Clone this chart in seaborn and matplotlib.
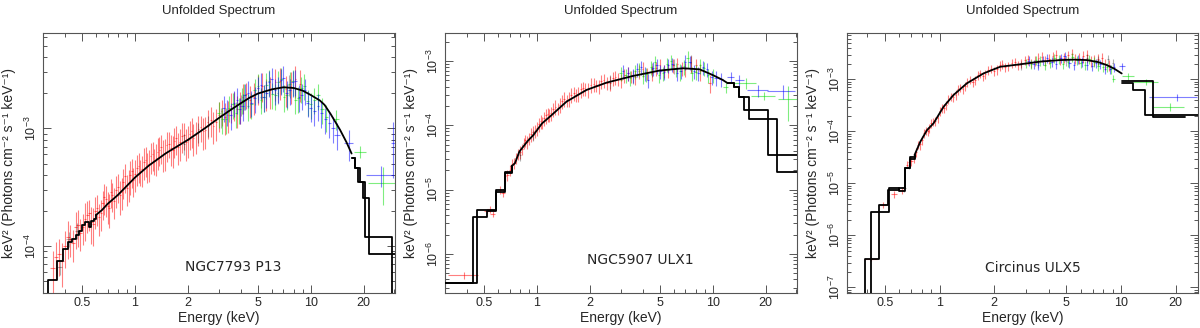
import matplotlib
matplotlib.use("Agg")
import matplotlib.pyplot as plt
import seaborn as sns
from matplotlib.ticker import FixedLocator, FixedFormatter, LogLocator, NullFormatter

# ---------------- panel 1: NGC7793 P13 ----------------
p1_lo_e = [0.30, 0.321, 0.361, 0.391, 0.417, 0.44, 0.46, 0.48, 0.50, 0.52, 0.545, 0.565, 0.585, 0.60]
p1_lo_y = [1e-6, 5.1e-5, 7.4e-5, 9.4e-5, 1.07e-4, 1.15e-4, 1.25e-4, 1.35e-4, 1.5e-4, 1.61e-4, 1.46e-4, 1.62e-4, 1.7e-4, 1.83e-4]
p1_mid_e = [0.60, 0.65, 0.70, 0.75, 0.80, 0.90, 1.0, 1.2, 1.5, 2.0, 2.5, 3.0, 3.5, 4.0, 4.5, 5.0, 6.0, 7.0,
            8.0, 9.0, 10.0, 11.3, 12.0, 13.0, 14.7, 16.0, 17.1]
p1_mid_y = [1.83e-4, 2.02e-4, 2.28e-4, 2.49e-4, 2.71e-4, 3.24e-4, 3.81e-4, 4.82e-4, 6.13e-4, 7.96e-4, 1.0e-3,
            1.22e-3, 1.43e-3, 1.63e-3, 1.82e-3, 1.97e-3, 2.14e-3, 2.23e-3, 2.2e-3, 2.09e-3, 1.92e-3, 1.72e-3,
            1.58e-3, 1.32e-3, 9.7e-4, 7.6e-4, 6.1e-4]
p1_hi_a_e = [17.1, 17.9, 18.7, 20.4, 28.9, 31.0]
p1_hi_a_y = [5.6e-4, 4.6e-4, 3.5e-4, 1.2e-4, 1e-6, 1e-6]
p1_hi_b_e = [17.1, 17.9, 19.1, 19.9, 21.6, 31.0]
p1_hi_b_y = [5.6e-4, 4.6e-4, 3.5e-4, 2.55e-4, 8.55e-5, 8.55e-5]

p1_red_e = [0.34, 0.37, 0.40, 0.43, 0.46, 0.49, 0.52, 0.55, 0.58, 0.61, 0.64, 0.67, 0.70, 0.73, 0.76, 0.80,
            0.84, 0.88, 0.92, 0.96, 1.00, 1.05, 1.10, 1.15, 1.20, 1.26, 1.32, 1.38, 1.45, 1.52, 1.60, 1.68,
            1.76, 1.85, 1.95, 2.05, 2.15, 2.30, 2.45, 2.60, 2.80, 3.00, 3.25, 3.50, 3.80, 4.10, 4.50, 5.00,
            5.60, 6.30, 7.20, 8.20,
            0.355, 0.385, 0.415, 0.445, 0.475, 0.505, 0.535, 0.565, 0.595, 0.625, 0.655, 0.685, 0.715, 0.745,
            0.78, 0.82, 0.86, 0.90, 0.94, 0.98, 1.025, 1.075, 1.125, 1.175, 1.23, 1.29, 1.35, 1.415, 1.485,
            1.56, 1.64, 1.72, 1.80, 1.90, 2.0, 2.1, 2.22, 2.37, 2.52, 2.7, 2.9, 3.12, 3.37, 3.65, 3.95, 4.3,
            4.75, 5.3, 5.9, 6.7, 7.7, 8.7]
p1_red_y = [6.5e-5, 8.5e-5, 1.0e-4, 1.15e-4, 1.45e-4, 1.3e-4, 1.7e-4, 1.9e-4, 1.55e-4, 2.1e-4, 1.9e-4, 2.6e-4,
            2.2e-4, 2.9e-4, 2.4e-4, 3.2e-4, 2.9e-4, 3.9e-4, 3.4e-4, 4.3e-4, 4.1e-4, 4.8e-4, 4.5e-4, 5.4e-4,
            5.0e-4, 6.0e-4, 5.6e-4, 6.6e-4, 6.1e-4, 7.2e-4, 6.8e-4, 7.8e-4, 7.0e-4, 8.6e-4, 7.6e-4, 9.0e-4,
            8.3e-4, 9.9e-4, 9.4e-4, 1.12e-3, 1.05e-3, 1.3e-3, 1.25e-3, 1.55e-3, 1.45e-3, 1.85e-3, 1.75e-3,
            2.2e-3, 2.0e-3, 2.45e-3, 2.15e-3, 2.6e-3,
            8e-5, 7.5e-5, 1.2e-4, 1.05e-4, 1.5e-4, 1.45e-4, 1.85e-4, 1.6e-4, 2.0e-4, 1.75e-4, 2.3e-4, 2.5e-4,
            2.1e-4, 2.7e-4, 3.0e-4, 2.7e-4, 3.5e-4, 3.1e-4, 4.0e-4, 3.6e-4, 4.6e-4, 4.3e-4, 5.2e-4, 4.8e-4,
            5.8e-4, 5.3e-4, 6.3e-4, 6.9e-4, 6.2e-4, 7.4e-4, 6.6e-4, 8.2e-4, 7.6e-4, 8.8e-4, 8.0e-4, 9.5e-4,
            8.7e-4, 1.02e-3, 9.6e-4, 1.18e-3, 1.12e-3, 1.4e-3, 1.3e-3, 1.6e-3, 1.55e-3, 1.95e-3, 1.85e-3,
            2.3e-3, 2.1e-3, 2.5e-3, 2.3e-3, 2.4e-3]
p1_red_err = [0.4, 0.35, 0.35, 0.3, 0.35, 0.3, 0.35, 0.3, 0.35, 0.3, 0.3, 0.3, 0.3, 0.28, 0.3, 0.28, 0.3, 0.28,
              0.3, 0.28, 0.3, 0.28, 0.3, 0.28, 0.3, 0.28, 0.3, 0.28, 0.3, 0.28, 0.3, 0.28, 0.3, 0.28, 0.3, 0.28,
              0.3, 0.28, 0.3, 0.28, 0.3, 0.28, 0.3, 0.28, 0.3, 0.28, 0.3, 0.28, 0.3, 0.3, 0.3, 0.3,
              0.35, 0.4, 0.35, 0.3, 0.35, 0.3, 0.3, 0.35, 0.3, 0.3, 0.28, 0.3, 0.32, 0.28, 0.3, 0.32, 0.28,
              0.3, 0.32, 0.28, 0.3, 0.25, 0.3, 0.28, 0.3, 0.25, 0.3, 0.28, 0.3, 0.25, 0.3, 0.28, 0.3, 0.25,
              0.3, 0.28, 0.3, 0.25, 0.3, 0.28, 0.3, 0.25, 0.3, 0.28, 0.3, 0.25, 0.3, 0.28, 0.3, 0.3, 0.3, 0.3]
p1_red_dx = [0.01, 0.01, 0.01, 0.01, 0.01, 0.01, 0.01, 0.01, 0.01, 0.01, 0.01, 0.01, 0.01, 0.01, 0.01, 0.01,
             0.01, 0.01, 0.01, 0.01, 0.01, 0.01, 0.01, 0.01, 0.01, 0.01, 0.01, 0.01, 0.01, 0.01, 0.02, 0.02,
             0.02, 0.02, 0.02, 0.02, 0.02, 0.02, 0.02, 0.02, 0.03, 0.03, 0.03, 0.03, 0.04, 0.04, 0.05, 0.05,
             0.06, 0.07, 0.08, 0.1,
             0.01, 0.01, 0.01, 0.01, 0.01, 0.01, 0.01, 0.01, 0.01, 0.01, 0.01, 0.01, 0.01, 0.01, 0.01, 0.01,
             0.01, 0.01, 0.01, 0.01, 0.01, 0.01, 0.01, 0.01, 0.01, 0.01, 0.01, 0.02, 0.02, 0.02, 0.02, 0.02,
             0.02, 0.02, 0.02, 0.02, 0.02, 0.02, 0.03, 0.03, 0.03, 0.03, 0.03, 0.04, 0.04, 0.05, 0.05, 0.06,
             0.06, 0.07, 0.08, 0.1]
p1_gray_e = [0.373, 0.42, 0.47, 1.9, 2.3, 2.6, 3.1, 4.0, 5.2, 6.5, 7.5]
p1_gray_y = [6.6e-5, 1.15e-4, 1.35e-4, 7.4e-4, 9.3e-4, 1.05e-3, 1.25e-3, 1.6e-3, 1.85e-3, 2.0e-3, 2.35e-3]
p1_gray_err = [0.15, 0.15, 0.15, 0.2, 0.2, 0.2, 0.2, 0.2, 0.2, 0.2, 0.2]
p1_gray_dx = [0.012, 0.012, 0.012, 0.02, 0.02, 0.03, 0.03, 0.04, 0.05, 0.06, 0.08]
p1_green_e = [3.0, 3.3, 3.6, 3.9, 4.2, 4.6, 5.0, 5.4, 5.8, 6.3, 6.8, 7.3, 7.9, 8.5, 9.2, 10.0, 11.0, 12.3, 14.0,
              19.1, 25.9,
              3.15, 3.45, 3.75, 4.05, 4.4, 4.8, 5.2, 5.6, 6.05, 6.55, 7.05, 7.6, 8.2, 8.85, 9.6, 10.5, 11.6]
p1_green_y = [1.35e-3, 1.2e-3, 1.6e-3, 1.45e-3, 1.9e-3, 1.6e-3, 2.3e-3, 1.85e-3, 2.5e-3, 1.9e-3, 2.6e-3, 1.9e-3,
              2.5e-3, 1.8e-3, 2.3e-3, 1.6e-3, 1.9e-3, 1.25e-3, 1.2e-3, 6.3e-4, 3.45e-4,
              1.2e-3, 1.5e-3, 1.35e-3, 1.75e-3, 1.55e-3, 2.1e-3, 1.75e-3, 2.35e-3, 1.95e-3, 2.45e-3, 1.85e-3,
              2.4e-3, 1.75e-3, 2.2e-3, 1.7e-3, 1.75e-3, 1.45e-3]
p1_green_err = [0.25, 0.25, 0.25, 0.25, 0.25, 0.25, 0.25, 0.25, 0.25, 0.25, 0.25, 0.25, 0.25, 0.25, 0.25, 0.25,
                0.25, 0.25, 0.2, 0.12, 0.35,
                0.25, 0.25, 0.25, 0.25, 0.25, 0.25, 0.25, 0.25, 0.25, 0.25, 0.25, 0.25, 0.25, 0.25, 0.25, 0.25,
                0.25]
p1_green_dx = [0.05, 0.05, 0.06, 0.06, 0.07, 0.08, 0.08, 0.09, 0.1, 0.1, 0.12, 0.12, 0.13, 0.15, 0.15, 0.2,
               0.25, 0.3, 0.5, 1.5, 4.7,
               0.05, 0.05, 0.06, 0.06, 0.07, 0.08, 0.08, 0.09, 0.1, 0.1, 0.12, 0.12, 0.13, 0.15, 0.15, 0.2, 0.25]
p1_blue_e = [3.2, 3.5, 3.8, 4.1, 4.4, 4.8, 5.2, 5.6, 6.0, 6.5, 7.0, 7.6, 8.2, 8.9, 9.6, 10.5, 11.5, 12.8, 14.1,
             16.5, 25.0, 29.5,
             3.35, 3.65, 3.95, 4.25, 4.6, 5.0, 5.4, 5.8, 6.25, 6.75, 7.3, 7.9, 8.55, 9.25, 10.0, 11.0, 12.1, 13.4]
p1_blue_y = [1.5e-3, 1.3e-3, 1.75e-3, 1.55e-3, 2.0e-3, 1.8e-3, 2.35e-3, 2.0e-3, 2.6e-3, 2.2e-3, 2.7e-3, 2.1e-3,
             2.5e-3, 1.9e-3, 1.65e-3, 1.4e-3, 1.35e-3, 1.1e-3, 8.8e-4, 7.5e-4, 4.0e-4, 7.5e-4,
             1.4e-3, 1.65e-3, 1.45e-3, 1.9e-3, 1.65e-3, 2.2e-3, 1.85e-3, 2.45e-3, 2.1e-3, 2.55e-3, 2.0e-3,
             2.45e-3, 1.85e-3, 2.1e-3, 1.5e-3, 1.55e-3, 1.2e-3, 1.0e-3]
p1_blue_err = [0.25, 0.25, 0.25, 0.25, 0.25, 0.25, 0.25, 0.25, 0.25, 0.25, 0.25, 0.25, 0.25, 0.25, 0.25, 0.25,
               0.25, 0.25, 0.25, 0.3, 0.2, 0.5,
               0.25, 0.25, 0.25, 0.25, 0.25, 0.25, 0.25, 0.25, 0.25, 0.25, 0.25, 0.25, 0.25, 0.25, 0.25, 0.25,
               0.25, 0.25]
p1_blue_dx = [0.05, 0.05, 0.06, 0.06, 0.07, 0.08, 0.08, 0.09, 0.1, 0.1, 0.12, 0.12, 0.13, 0.15, 0.15, 0.2,
              0.25, 0.3, 0.5, 1.0, 4.3, 0.8,
              0.05, 0.05, 0.06, 0.06, 0.07, 0.08, 0.08, 0.09, 0.1, 0.1, 0.12, 0.12, 0.13, 0.15, 0.15, 0.2,
              0.25, 0.3]

# ---------------- panel 2: NGC5907 ULX1 ----------------
p2_lo_a_e = [0.30, 0.435, 0.52, 0.585, 0.657, 0.718]
p2_lo_a_y = [3.5e-7, 3.8e-6, 4.7e-6, 9.3e-6, 1.8e-5, 2.3e-5]
p2_lo_b_e = [0.30, 0.458, 0.585, 0.657, 0.718]
p2_lo_b_y = [3.5e-7, 4.9e-6, 9.8e-6, 1.85e-5, 2.3e-5]
p2_mid_e = [0.718, 0.75, 0.795, 0.882, 0.957, 1.07, 1.185, 1.474, 1.915, 2.49, 3.53, 5.0, 6.8, 8.44, 10.0,
            11.4, 12.2]
p2_mid_y = [2.3e-5, 2.57e-5, 3.9e-5, 5.6e-5, 7.1e-5, 1.07e-4, 1.36e-4, 2.33e-4, 3.54e-4, 4.6e-4, 5.85e-4,
            7.1e-4, 7.7e-4, 7.4e-4, 6.05e-4, 5.07e-4, 4.5e-4]
p2_hi_a_e = [12.2, 13.3, 14.2, 15.0, 20.6, 31.0]
p2_hi_a_y = [4.5e-4, 3.9e-4, 2.8e-4, 1.73e-4, 3.45e-5, 3.45e-5]
p2_hi_b_e = [12.2, 13.3, 14.2, 16.1, 23.1, 31.0]
p2_hi_b_y = [4.5e-4, 3.9e-4, 2.8e-4, 1.24e-4, 1.9e-5, 1.9e-5]

p2_red_e = [0.385, 0.52, 0.56, 0.62, 0.66, 0.70, 0.74, 0.78, 0.82, 0.86, 0.90, 0.95, 1.0, 1.05, 1.1, 1.15, 1.2,
            1.27, 1.35, 1.43, 1.52, 1.62, 1.72, 1.83, 1.95, 2.1, 2.25, 2.4, 2.6, 2.8, 3.0, 3.3, 3.6, 4.0, 4.5,
            5.0, 5.6, 6.3, 7.0, 8.0, 9.6,
            0.54, 0.64, 0.68, 0.72, 0.76, 0.80, 0.84, 0.88, 0.925, 0.975, 1.025, 1.075, 1.125, 1.175, 1.235,
            1.31, 1.39, 1.475, 1.57, 1.67, 1.775, 1.89, 2.02, 2.17, 2.32, 2.5, 2.7, 2.9, 3.15, 3.45, 3.8, 4.25,
            4.75, 5.3, 5.95, 6.65, 7.5, 8.5]
p2_red_y = [4.7e-7, 4.6e-6, 4.2e-6, 1.0e-5, 1.6e-5, 2.0e-5, 2.6e-5, 3.6e-5, 4.3e-5, 5.8e-5, 6.3e-5, 7.8e-5,
            9.0e-5, 1.15e-4, 1.3e-4, 1.5e-4, 1.55e-4, 1.95e-4, 2.1e-4, 2.6e-4, 2.6e-4, 3.2e-4, 3.1e-4, 3.8e-4,
            3.6e-4, 4.4e-4, 4.1e-4, 5.0e-4, 4.6e-4, 5.6e-4, 5.0e-4, 6.4e-4, 5.7e-4, 7.6e-4, 6.6e-4, 8.5e-4,
            7.2e-4, 9.0e-4, 7.4e-4, 8.6e-4, 4.6e-4,
            5.0e-6, 9.0e-6, 1.7e-5, 2.5e-5, 3.1e-5, 3.9e-5, 5.3e-5, 5.5e-5, 7.3e-5, 8.2e-5, 1.05e-4, 1.12e-4,
            1.42e-4, 1.45e-4, 1.8e-4, 1.85e-4, 2.4e-4, 2.45e-4, 3.0e-4, 2.95e-4, 3.6e-4, 3.7e-4, 4.3e-4,
            4.2e-4, 4.8e-4, 4.6e-4, 5.4e-4, 5.3e-4, 6.0e-4, 5.8e-4, 6.9e-4, 6.4e-4, 7.8e-4, 7.0e-4, 8.6e-4,
            7.8e-4, 9.2e-4, 7.0e-4]
p2_red_err = [0.12, 0.1, 0.1, 0.15, 0.2, 0.2, 0.2, 0.2, 0.2, 0.22, 0.22, 0.25, 0.25, 0.25, 0.25, 0.25, 0.25,
              0.25, 0.25, 0.25, 0.25, 0.25, 0.25, 0.25, 0.25, 0.25, 0.25, 0.25, 0.25, 0.25, 0.25, 0.25, 0.25,
              0.25, 0.25, 0.25, 0.25, 0.25, 0.25, 0.25, 0.3,
              0.12, 0.15, 0.2, 0.2, 0.2, 0.22, 0.2, 0.22, 0.25, 0.22, 0.25, 0.22, 0.25, 0.22, 0.25, 0.22, 0.25,
              0.22, 0.25, 0.22, 0.25, 0.22, 0.25, 0.22, 0.25, 0.22, 0.25, 0.22, 0.25, 0.22, 0.25, 0.22, 0.25,
              0.22, 0.25, 0.25, 0.3, 0.3]
p2_red_dx = [0.075, 0.02, 0.02, 0.015, 0.01, 0.01, 0.01, 0.01, 0.01, 0.01, 0.01, 0.01, 0.01, 0.01, 0.01, 0.01,
             0.01, 0.01, 0.01, 0.02, 0.02, 0.02, 0.02, 0.02, 0.02, 0.02, 0.02, 0.02, 0.03, 0.03, 0.03, 0.03,
             0.04, 0.04, 0.05, 0.05, 0.06, 0.07, 0.08, 0.1, 0.15,
             0.02, 0.015, 0.01, 0.01, 0.01, 0.01, 0.01, 0.01, 0.01, 0.01, 0.01, 0.01, 0.01, 0.01, 0.01, 0.01,
             0.02, 0.02, 0.02, 0.02, 0.02, 0.02, 0.02, 0.02, 0.02, 0.03, 0.03, 0.03, 0.03, 0.04, 0.04, 0.05,
             0.05, 0.06, 0.07, 0.08, 0.08, 0.1]
p2_gray_e = [0.8, 0.95, 2.6, 3.5, 4.5, 6.0, 7.5]
p2_gray_y = [3.5e-5, 7.0e-5, 4.8e-4, 5.8e-4, 7.5e-4, 8.5e-4, 9.5e-4]
p2_gray_err = [0.2, 0.2, 0.25, 0.25, 0.25, 0.25, 0.3]
p2_gray_dx = [0.01, 0.01, 0.03, 0.04, 0.05, 0.06, 0.08]
p2_green_e = [3.0, 3.4, 3.8, 4.2, 4.7, 5.2, 5.8, 6.5, 7.2, 8.0, 8.9, 10.0, 11.9, 15.5, 19.5, 26.8,
              3.2, 3.6, 4.0, 4.45, 4.95, 5.5, 6.15, 6.85, 7.6, 8.45, 9.4]
p2_green_y = [6.5e-4, 5.5e-4, 7.5e-4, 6.2e-4, 9.5e-4, 6.5e-4, 1.0e-3, 7.0e-4, 1.1e-3, 6.8e-4, 7.8e-4, 6.0e-4,
              3.9e-4, 4.6e-4, 2.9e-4, 2.6e-4,
              6.0e-4, 7.0e-4, 5.8e-4, 8.0e-4, 6.0e-4, 9.0e-4, 7.5e-4, 8.2e-4, 6.5e-4, 8.5e-4, 6.0e-4]
p2_green_err = [0.25, 0.25, 0.25, 0.25, 0.25, 0.25, 0.25, 0.3, 0.3, 0.25, 0.25, 0.25, 0.2, 0.2, 0.15, 0.55,
                0.25, 0.25, 0.25, 0.25, 0.25, 0.25, 0.25, 0.25, 0.25, 0.25, 0.25]
p2_green_dx = [0.05, 0.05, 0.06, 0.07, 0.08, 0.08, 0.1, 0.1, 0.12, 0.13, 0.15, 0.2, 0.4, 2.2, 3.0, 3.4,
               0.05, 0.05, 0.06, 0.07, 0.08, 0.08, 0.1, 0.1, 0.12, 0.13, 0.15]
p2_blue_e = [3.1, 3.5, 3.9, 4.3, 4.8, 5.3, 5.9, 6.6, 7.4, 8.3, 9.3, 10.5, 12.7, 14.2, 18.1, 25.0,
             3.3, 3.7, 4.1, 4.55, 5.05, 5.6, 6.25, 7.0, 7.85, 8.8, 9.9, 11.2]
p2_blue_y = [7.0e-4, 6.0e-4, 8.0e-4, 5.1e-4, 8.5e-4, 6.8e-4, 9.0e-4, 7.0e-4, 9.5e-4, 6.5e-4, 7.5e-4, 5.5e-4,
             5.7e-4, 5.0e-4, 3.5e-4, 3.4e-4,
             6.5e-4, 7.5e-4, 6.5e-4, 7.8e-4, 7.0e-4, 8.6e-4, 6.4e-4, 9.8e-4, 7.0e-4, 8.0e-4, 5.6e-4, 5.2e-4]
p2_blue_err = [0.25, 0.25, 0.25, 0.25, 0.25, 0.25, 0.25, 0.25, 0.25, 0.25, 0.25, 0.25, 0.2, 0.2, 0.2, 0.25,
               0.25, 0.25, 0.25, 0.25, 0.25, 0.25, 0.25, 0.25, 0.25, 0.25, 0.25, 0.25]
p2_blue_dx = [0.05, 0.05, 0.06, 0.07, 0.08, 0.08, 0.1, 0.1, 0.12, 0.13, 0.15, 0.3, 0.6, 0.8, 2.5, 4.5,
              0.05, 0.05, 0.06, 0.07, 0.08, 0.08, 0.1, 0.1, 0.12, 0.13, 0.2, 0.3]

# ---------------- panel 3: Circinus ULX5 ----------------
p3_lo_a_e = [0.30, 0.387, 0.4615, 0.52, 0.595, 0.647, 0.69, 0.728]
p3_lo_a_y = [1e-9, 3.45e-7, 3.83e-6, 7.4e-6, 8.0e-6, 1.94e-5, 3.0e-5, 3.5e-5]
p3_lo_b_e = [0.30, 0.421, 0.529, 0.595, 0.647, 0.69, 0.728]
p3_lo_b_y = [1e-9, 2.84e-6, 8.0e-6, 7.0e-6, 1.94e-5, 3.2e-5, 3.5e-5]
p3_mid_e = [0.728, 0.783, 0.853, 0.927, 1.052, 1.194, 1.415, 1.746, 2.16, 2.78, 3.6, 4.6, 5.5, 6.5, 7.5,
            8.34, 9.2, 10.1]
p3_mid_y = [3.5e-5, 6.3e-5, 1.06e-4, 1.43e-4, 2.97e-4, 5.0e-4, 8.4e-4, 1.3e-3, 1.75e-3, 1.95e-3, 2.2e-3,
            2.35e-3, 2.4e-3, 2.35e-3, 2.15e-3, 1.89e-3, 1.6e-3, 1.3e-3]
p3_hi_a_e = [10.1, 11.7, 13.6, 27.0]
p3_hi_a_y = [8.6e-4, 6.2e-4, 2.06e-4, 2.06e-4]
p3_hi_b_e = [10.1, 15.1, 22.5]
p3_hi_b_y = [9.5e-4, 1.86e-4, 1.86e-4]

p3_red_e = [0.42, 0.49, 0.56, 0.62, 0.66, 0.70, 0.74, 0.78, 0.82, 0.86, 0.90, 0.95, 1.0, 1.06, 1.12, 1.19,
            1.26, 1.34, 1.42, 1.52, 1.62, 1.73, 1.85, 2.0, 2.15, 2.3, 2.5, 2.7, 2.95, 3.2, 3.5, 3.8, 4.2, 4.6,
            5.1, 5.6, 6.2, 6.8, 7.5, 8.2,
            0.68, 0.72, 0.76, 0.80, 0.84, 0.88, 0.925, 0.975, 1.03, 1.09, 1.155, 1.225, 1.30, 1.38, 1.47, 1.57,
            1.675, 1.79, 1.925, 2.07, 2.22, 2.4, 2.6, 2.82, 3.07, 3.35, 3.65, 4.0, 4.4, 4.85, 5.35, 5.9, 6.5,
            7.15, 7.85, 8.6]
p3_red_y = [3.5e-7, 3.9e-6, 6.2e-6, 7.5e-6, 2.3e-5, 2.7e-5, 4.0e-5, 5.6e-5, 9.2e-5, 1.0e-4, 1.45e-4, 1.6e-4,
            2.45e-4, 2.8e-4, 4.2e-4, 4.6e-4, 6.4e-4, 6.6e-4, 9.0e-4, 8.8e-4, 1.2e-3, 1.15e-3, 1.5e-3, 1.45e-3,
            1.85e-3, 1.7e-3, 2.1e-3, 1.9e-3, 2.35e-3, 2.1e-3, 2.6e-3, 2.3e-3, 2.8e-3, 2.4e-3, 2.9e-3, 2.5e-3,
            2.8e-3, 2.3e-3, 2.5e-3, 2.0e-3,
            2.6e-5, 3.1e-5, 5.5e-5, 6.8e-5, 1.05e-4, 1.15e-4, 1.55e-4, 1.8e-4, 2.8e-4, 3.2e-4, 4.7e-4, 5.1e-4,
            7.0e-4, 7.4e-4, 9.8e-4, 9.8e-4, 1.3e-3, 1.28e-3, 1.6e-3, 1.55e-3, 1.95e-3, 1.8e-3, 2.15e-3,
            2.05e-3, 2.45e-3, 2.3e-3, 2.75e-3, 2.5e-3, 3.0e-3, 2.6e-3, 3.1e-3, 2.6e-3, 2.9e-3, 2.4e-3, 2.6e-3,
            1.9e-3]
p3_red_err = [0.1, 0.15, 0.15, 0.15, 0.15, 0.2, 0.2, 0.2, 0.2, 0.2, 0.2, 0.2, 0.2, 0.2, 0.2, 0.2, 0.2, 0.2,
              0.2, 0.2, 0.2, 0.2, 0.2, 0.2, 0.2, 0.2, 0.2, 0.2, 0.2, 0.2, 0.22, 0.22, 0.22, 0.22, 0.22, 0.22,
              0.25, 0.25, 0.25, 0.25,
              0.15, 0.2, 0.18, 0.2, 0.18, 0.2, 0.18, 0.2, 0.18, 0.2, 0.18, 0.2, 0.18, 0.2, 0.18, 0.2, 0.18, 0.2,
              0.18, 0.2, 0.2, 0.2, 0.2, 0.2, 0.22, 0.22, 0.22, 0.22, 0.22, 0.22, 0.25, 0.25, 0.25, 0.25, 0.25,
              0.25]
p3_red_dx = [0.035, 0.02, 0.02, 0.02, 0.01, 0.01, 0.01, 0.01, 0.01, 0.01, 0.01, 0.01, 0.01, 0.01, 0.01, 0.01,
             0.01, 0.01, 0.02, 0.02, 0.02, 0.02, 0.02, 0.02, 0.02, 0.02, 0.02, 0.03, 0.03, 0.03, 0.03, 0.04,
             0.04, 0.05, 0.05, 0.06, 0.07, 0.08, 0.08, 0.1,
             0.01, 0.01, 0.01, 0.01, 0.01, 0.01, 0.01, 0.01, 0.01, 0.01, 0.01, 0.01, 0.01, 0.02, 0.02, 0.02,
             0.02, 0.02, 0.02, 0.02, 0.02, 0.02, 0.03, 0.03, 0.03, 0.03, 0.04, 0.04, 0.05, 0.05, 0.06, 0.06,
             0.07, 0.08, 0.08, 0.1]
p3_gray_e = [0.64, 0.68, 2.8, 3.5, 5.0, 6.5, 7.5, 8.5, 9.0]
p3_gray_y = [8e-6, 2.2e-5, 1.9e-3, 2.1e-3, 2.3e-3, 2.6e-3, 2.4e-3, 2.5e-3, 2.1e-3]
p3_gray_err = [0.15, 0.15, 0.2, 0.2, 0.2, 0.2, 0.2, 0.2, 0.2]
p3_gray_dx = [0.01, 0.01, 0.03, 0.04, 0.05, 0.06, 0.08, 0.1, 0.1]
p3_green_e = [3.0, 3.4, 3.8, 4.3, 4.8, 5.4, 6.0, 6.7, 7.5, 8.4, 9.1, 11.0, 13.8, 18.6,
              3.2, 3.6, 4.05, 4.55, 5.1, 5.7, 6.35, 7.1, 7.95, 8.8]
p3_green_y = [2.1e-3, 2.4e-3, 1.9e-3, 2.6e-3, 2.0e-3, 2.7e-3, 2.1e-3, 2.5e-3, 1.8e-3, 1.7e-3, 1.04e-3, 1.16e-3,
              9.0e-4, 3.0e-4,
              2.0e-3, 2.3e-3, 2.1e-3, 2.5e-3, 2.2e-3, 2.4e-3, 1.9e-3, 2.2e-3, 1.7e-3, 1.6e-3]
p3_green_err = [0.2, 0.2, 0.2, 0.2, 0.2, 0.2, 0.2, 0.2, 0.2, 0.2, 0.15, 0.15, 0.15, 0.18,
                0.2, 0.2, 0.2, 0.2, 0.2, 0.2, 0.2, 0.2, 0.2, 0.2]
p3_green_dx = [0.05, 0.05, 0.06, 0.07, 0.08, 0.08, 0.1, 0.1, 0.12, 0.13, 0.2, 0.8, 2.2, 3.7,
               0.05, 0.05, 0.06, 0.07, 0.08, 0.08, 0.1, 0.1, 0.12, 0.13]
p3_blue_e = [3.1, 3.5, 3.9, 4.4, 4.9, 5.5, 6.1, 6.9, 7.7, 8.7, 10.1, 20.3,
             3.3, 3.7, 4.15, 4.65, 5.2, 5.8, 6.5, 7.3, 8.2, 9.2]
p3_blue_y = [2.3e-3, 1.9e-3, 2.6e-3, 2.0e-3, 2.8e-3, 1.9e-3, 2.2e-3, 1.8e-3, 2.0e-3, 1.6e-3, 1.8e-3, 4.5e-4,
             2.0e-3, 2.4e-3, 2.2e-3, 2.6e-3, 2.1e-3, 2.5e-3, 1.9e-3, 2.1e-3, 1.6e-3, 1.7e-3]
p3_blue_err = [0.2, 0.2, 0.2, 0.2, 0.2, 0.2, 0.2, 0.2, 0.2, 0.2, 0.15, 0.15,
               0.2, 0.2, 0.2, 0.2, 0.2, 0.2, 0.2, 0.2, 0.2, 0.2]
p3_blue_dx = [0.05, 0.05, 0.06, 0.07, 0.08, 0.08, 0.1, 0.1, 0.12, 0.13, 0.4, 6.0,
              0.05, 0.05, 0.06, 0.07, 0.08, 0.08, 0.1, 0.1, 0.12, 0.13]

source_names = ["NGC7793 P13", "NGC5907 ULX1", "Circinus ULX5"]
x_ticks = [0.5, 1, 2, 5, 10, 20]
x_tick_labels = ["0.5", "1", "2", "5", "10", "20"]
x_minor = [0.3, 0.4, 0.6, 0.7, 0.8, 0.9, 3, 4, 6, 7, 8, 9, 30]

sns.set_style("ticks")
plt.rcParams['font.family'] = ['Liberation Sans', 'DejaVu Sans']
plt.rcParams['mathtext.fontset'] = 'custom'
plt.rcParams['mathtext.rm'] = 'Liberation Sans'
plt.rcParams['mathtext.it'] = 'Liberation Sans:italic'

FRAME = '#555555'


def draw_model(ax, e, y, steps=True):
    kw = dict(drawstyle='steps-post') if steps else {}
    sns.lineplot(x=e, y=y, ax=ax, estimator=None, sort=False, color='black', lw=1.3, zorder=5, **kw)


def draw_data(ax, e, y, err, dx, color, alpha):
    dy = [v * r for v, r in zip(y, err)]
    ax.errorbar(e, y, yerr=dy, xerr=dx, fmt='none', ecolor=color, elinewidth=0.8, alpha=alpha,
                capsize=0, zorder=2)


def style_axes(ax, xlim, ylim, name, name_pos):
    ax.set_xlim(*xlim)
    ax.set_ylim(*ylim)
    ax.xaxis.set_major_locator(FixedLocator(x_ticks))
    ax.xaxis.set_major_formatter(FixedFormatter(x_tick_labels))
    ax.xaxis.set_minor_locator(FixedLocator(x_minor))
    ax.xaxis.set_minor_formatter(NullFormatter())
    ax.yaxis.set_major_locator(LogLocator(base=10))
    ax.yaxis.set_minor_locator(LogLocator(base=10, subs=(2, 3, 4, 5, 6, 7, 8, 9)))
    ax.yaxis.set_minor_formatter(NullFormatter())
    ax.tick_params(which='both', direction='in', top=True, right=True, color=FRAME, width=0.7)
    ax.tick_params(which='major', length=6, labelsize=9, pad=3)
    ax.tick_params(which='minor', length=3)
    for lab in ax.get_yticklabels():
        lab.set_rotation(90)
        lab.set_va('center')
    for sp in ax.spines.values():
        sp.set_color(FRAME)
        sp.set_linewidth(0.8)
    ax.set_title("Unfolded Spectrum", fontsize=9.5, pad=14)
    ax.set_xlabel("Energy (keV)", fontsize=10, labelpad=1)
    ax.set_ylabel("keV\u00b2 (Photons cm\u207b\u00b2 s\u207b\u00b9 keV\u207b\u00b9)", fontsize=10)
    ax.yaxis.set_label_coords(-0.078, 0.5)
    ax.text(name_pos[0], name_pos[1], name, transform=ax.transAxes, ha='center', va='center',
            fontsize=10, family='DejaVu Sans')


fig = plt.figure(figsize=(12, 3.28), dpi=100)
ax1 = fig.add_axes([43 / 1200, 1 - 293.3 / 328, 352 / 1200, 260.3 / 328])
ax2 = fig.add_axes([445 / 1200, 1 - 293.3 / 328, 352 / 1200, 260.3 / 328])
ax3 = fig.add_axes([847 / 1200, 1 - 293.3 / 328, 351 / 1200, 260.3 / 328])
for ax in (ax1, ax2, ax3):
    ax.set_xscale('log')
    ax.set_yscale('log')

# panel 1
draw_data(ax1, p1_red_e, p1_red_y, p1_red_err, p1_red_dx, 'red', 0.5)
draw_data(ax1, p1_gray_e, p1_gray_y, p1_gray_err, p1_gray_dx, 'black', 0.3)
draw_data(ax1, p1_green_e, p1_green_y, p1_green_err, p1_green_dx, '#00dd00', 0.5)
draw_data(ax1, p1_blue_e, p1_blue_y, p1_blue_err, p1_blue_dx, 'blue', 0.5)
draw_model(ax1, p1_lo_e, p1_lo_y)
draw_model(ax1, p1_mid_e, p1_mid_y, steps=False)
draw_model(ax1, p1_hi_a_e, p1_hi_a_y)
draw_model(ax1, p1_hi_b_e, p1_hi_b_y)
style_axes(ax1, (0.30, 30.2), (3.96e-5, 6.45e-3), source_names[0], (0.539, 0.10))

# panel 2
draw_data(ax2, p2_red_e, p2_red_y, p2_red_err, p2_red_dx, 'red', 0.5)
draw_data(ax2, p2_gray_e, p2_gray_y, p2_gray_err, p2_gray_dx, 'black', 0.3)
draw_data(ax2, p2_green_e, p2_green_y, p2_green_err, p2_green_dx, '#00dd00', 0.5)
draw_data(ax2, p2_blue_e, p2_blue_y, p2_blue_err, p2_blue_dx, 'blue', 0.5)
draw_model(ax2, p2_lo_a_e, p2_lo_a_y)
draw_model(ax2, p2_lo_b_e, p2_lo_b_y)
draw_model(ax2, p2_mid_e, p2_mid_y, steps=False)
draw_model(ax2, p2_hi_a_e, p2_hi_a_y)
draw_model(ax2, p2_hi_b_e, p2_hi_b_y)
style_axes(ax2, (0.30, 30.2), (2.44e-7, 2.72e-3), source_names[1], (0.554, 0.128))

# panel 3
draw_data(ax3, p3_red_e, p3_red_y, p3_red_err, p3_red_dx, 'red', 0.5)
draw_data(ax3, p3_gray_e, p3_gray_y, p3_gray_err, p3_gray_dx, 'black', 0.3)
draw_data(ax3, p3_green_e, p3_green_y, p3_green_err, p3_green_dx, '#00dd00', 0.5)
draw_data(ax3, p3_blue_e, p3_blue_y, p3_blue_err, p3_blue_dx, 'blue', 0.5)
draw_model(ax3, p3_lo_a_e, p3_lo_a_y)
draw_model(ax3, p3_lo_b_e, p3_lo_b_y)
draw_model(ax3, p3_mid_e, p3_mid_y, steps=False)
draw_model(ax3, p3_hi_a_e, p3_hi_a_y)
draw_model(ax3, p3_hi_b_e, p3_hi_b_y)
style_axes(ax3, (0.309, 26.6), (7.7e-8, 7.8e-3), source_names[2], (0.53, 0.097))

fig.savefig("out.png", dpi=100)
